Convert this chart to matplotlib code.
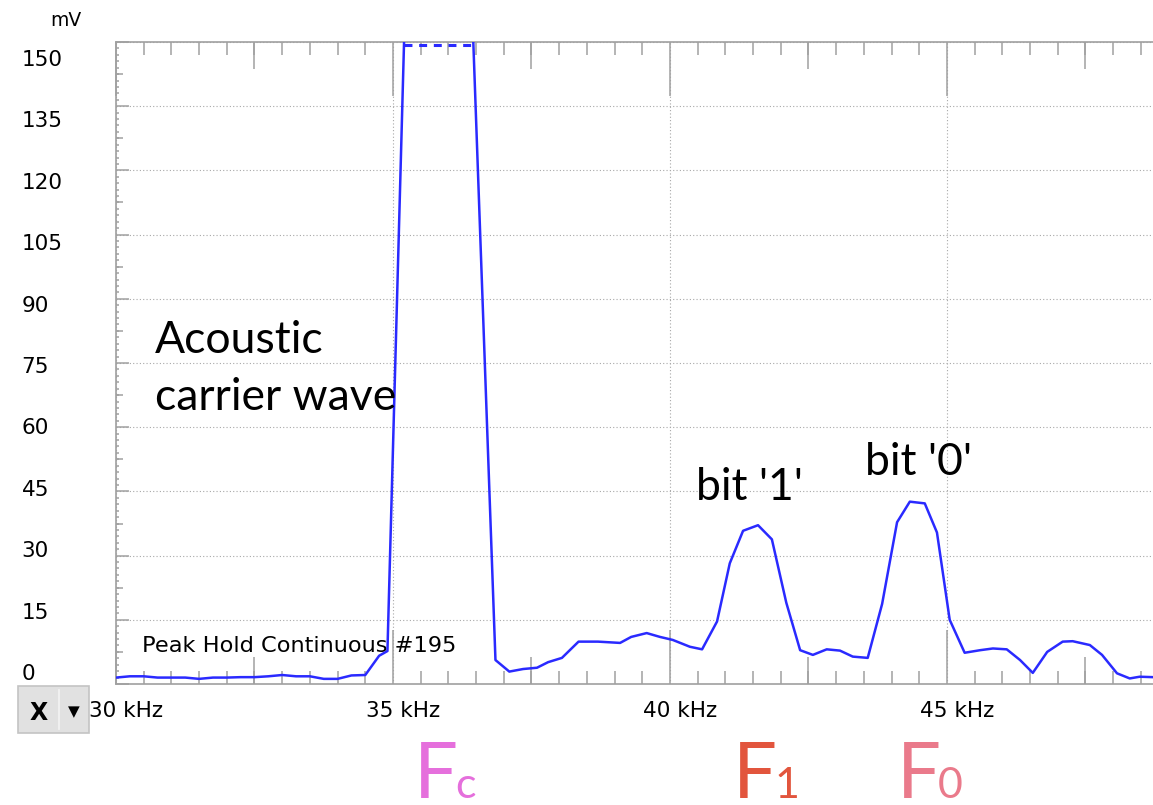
import numpy as np
import matplotlib.pyplot as plt
from matplotlib.ticker import MultipleLocator, FixedLocator, FuncFormatter
from matplotlib.transforms import ScaledTranslation, blended_transform_factory
from matplotlib.patches import Rectangle
from matplotlib.lines import Line2D

# spectrum trace (peak hold), kHz / mV
freq_khz = [30.0, 30.25, 30.5, 30.75, 31.0, 31.25, 31.5, 31.75, 32.0, 32.25,
            32.5, 32.75, 33.0, 33.25, 33.5, 33.75, 34.0, 34.25, 34.5, 34.75,
            34.9, 35.2, 35.45, 35.7, 35.95, 36.2, 36.45, 36.85, 37.1, 37.35,
            37.6, 37.8, 38.05, 38.35, 38.7, 39.1, 39.3, 39.58, 39.82, 40.05,
            40.36, 40.58, 40.85, 41.08, 41.32, 41.59, 41.84, 42.1, 42.35, 42.58,
            42.83, 43.07, 43.3, 43.57, 43.83, 44.1, 44.33, 44.6, 44.82, 45.05,
            45.32, 45.6, 45.83, 46.08, 46.32, 46.55, 46.81, 47.09, 47.27, 47.58,
            47.8, 48.07, 48.3, 48.48, 48.72]
level_mv = [1.5, 1.8, 1.8, 1.5, 1.5, 1.5, 1.2, 1.5, 1.5, 1.6,
            1.6, 1.8, 2.1, 1.8, 1.8, 1.2, 1.2, 2.0, 2.1, 6.6,
            7.7, 150, 150, 150, 150, 150, 150, 5.6, 2.9, 3.5,
            3.8, 5.1, 6.1, 9.9, 9.9, 9.6, 11.0, 11.9, 11.0, 10.3,
            8.7, 8.1, 14.6, 28.2, 35.8, 37.1, 33.8, 19.0, 7.9, 6.8,
            8.1, 7.8, 6.4, 6.1, 18.7, 37.8, 42.6, 42.2, 35.4, 15.0,
            7.3, 7.9, 8.3, 8.1, 5.6, 2.6, 7.5, 9.9, 10.0, 9.1,
            6.8, 2.5, 1.3, 1.7, 1.6]

x_range = (30, 48.72)
y_range = (0, 150)
x_major = [30, 35, 40, 45]
x_mid = [32.5, 37.5, 42.5, 47.5]
y_major = np.arange(0, 151, 15)
y_mid = np.arange(7.5, 150, 15)

tone_labels = [("F", "c", 35.38, "#e56fdc"),
               ("F", "1", 41.14, "#e2553d"),
               ("F", "0", 44.10, "#ea7a8b")]

trace_color = "#2a2aff"
frame_color = "#a0a0a0"

fig = plt.figure(figsize=(11.53, 8.05), dpi=100)
ax = fig.add_axes([116 / 1153, 121 / 805, 1 - 116 / 1153, 642 / 805])

f = np.array(freq_khz)
v = np.array(level_mv, dtype=float)
sat = v >= y_range[1]

# inside a saturated run only the two edges stay on the solid trace
solid = v.copy()
inner = sat & np.roll(sat, 1) & np.roll(sat, -1)
solid[inner] = np.nan
ax.plot(f, solid, color=trace_color, lw=1.8, solid_joinstyle="round", zorder=3)
ax.plot(f[sat], v[sat], color=trace_color, lw=2.2, linestyle=(0, (2.6, 2.2)),
        transform=ax.transData + ScaledTranslation(0, -0.03, fig.dpi_scale_trans),
        zorder=3)

ax.set_xlim(*x_range)
ax.set_ylim(*y_range)

for side in ("left", "top", "bottom"):
    ax.spines[side].set_color(frame_color)
    ax.spines[side].set_linewidth(1.2)
ax.spines["right"].set_visible(False)

ax.xaxis.set_major_locator(FixedLocator(x_major))
ax.xaxis.set_minor_locator(MultipleLocator(0.5))
ax.yaxis.set_major_locator(FixedLocator(y_major))
ax.yaxis.set_minor_locator(MultipleLocator(1.5))
ax.xaxis.set_major_formatter(FuncFormatter(lambda val, pos: f"{val:g} kHz"))

ax.tick_params(axis="x", which="both", direction="in", top=True, bottom=True,
               color=frame_color, width=1.1, labelsize=15.5, pad=12)
ax.tick_params(axis="x", which="major", length=39)
ax.tick_params(axis="x", which="minor", length=9.4)
ax.tick_params(axis="y", which="both", direction="in", left=True, right=False,
               color=frame_color, width=1.1, labelsize=15.5, pad=68)
ax.tick_params(axis="y", which="major", length=9.4)
ax.tick_params(axis="y", which="minor", length=2.3)

ax.grid(True, which="major", color="#a8a8a8", linestyle=(0, (1, 2)), linewidth=0.8)
ax.set_axisbelow(True)

# half-step ticks
for loc in ("bottom", "top"):
    sec = ax.secondary_xaxis(loc)
    sec.set_xticks(x_mid)
    sec.tick_params(direction="in", length=19.4, width=1.1, color=frame_color,
                    labelbottom=False, labeltop=False)
    sec.spines[loc].set_visible(False)
    sec.xaxis.set_minor_locator(FixedLocator([]))
secy = ax.secondary_yaxis("left")
secy.set_yticks(y_mid)
secy.tick_params(direction="in", length=5, width=1.1, color=frame_color, labelleft=False)
secy.spines["left"].set_visible(False)
secy.yaxis.set_minor_locator(FixedLocator([]))

fig.canvas.draw()
for lab in ax.get_xticklabels():
    lab.set_transform(lab.get_transform() + ScaledTranslation(0.10, 0, fig.dpi_scale_trans))
for val, lab in zip(y_major, ax.get_yticklabels()):
    shift = 16 - (150 - val) / 150 * 28
    lab.set_horizontalalignment("left")
    lab.set_transform(lab.get_transform() + ScaledTranslation(0, -shift / 100, fig.dpi_scale_trans))

fig.text(66 / 1153, 1 - 20 / 805, "mV", fontsize=13.5, ha="center", va="center")

ax.text(30.47, 8.9, "Peak Hold Continuous #195", fontsize=16.2, ha="left", va="center",
        zorder=2)

ann = dict(family="Lato", fontsize=32, color="black")
# va="baseline" pins the last line's baseline
ax.text(30.70, 64.0, "Acoustic\ncarrier wave", ha="left", va="baseline",
        linespacing=1.5, **ann)
ax.text(41.44, 43.0, "bit '1'", ha="center", va="baseline", **ann)
ax.text(44.48, 48.8, "bit '0'", ha="center", va="baseline", **ann)

blend = blended_transform_factory(ax.transData, fig.transFigure)
for main, sub, fx, col in tone_labels:
    ax.text(fx, 7 / 805, main, transform=blend, family="Lato", fontsize=56,
            color=col, ha="left", va="baseline", clip_on=False)
    ax.text(fx, 7 / 805, sub, family="Lato", fontsize=31, color=col,
            ha="left", va="baseline", clip_on=False,
            transform=blend + ScaledTranslation(0.41, 0, fig.dpi_scale_trans))

# trace selector box
box = Rectangle((0.18, 0.72), 0.71, 0.47, transform=fig.dpi_scale_trans,
                facecolor="#e1e1e1", edgecolor="#c4c4c4", lw=1.2)
fig.add_artist(box)
fig.add_artist(Line2D([0.59, 0.59], [0.76, 1.15], transform=fig.dpi_scale_trans,
                      color="#f4f4f4", lw=1.2))
fig.text(0.385, 0.925, "X", transform=fig.dpi_scale_trans, fontsize=17,
         fontweight="bold", ha="center", va="center")
fig.text(0.74, 0.935, "\u25bc", transform=fig.dpi_scale_trans, fontsize=11,
         ha="center", va="center")

fig.savefig("out.png", dpi=100)
